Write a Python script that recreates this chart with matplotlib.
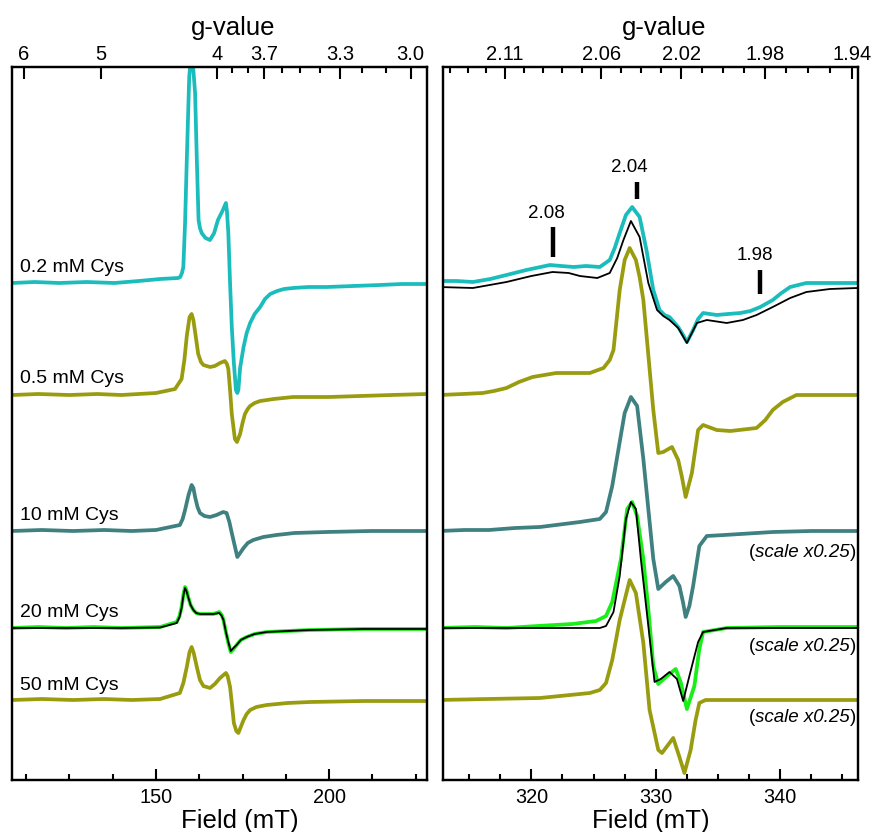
import numpy as np
import matplotlib
matplotlib.use("Agg")
import matplotlib.pyplot as plt

plt.rcParams['font.family'] = ['Liberation Sans', 'DejaVu Sans']

# ---------------- data ----------------
labels = ["0.2 mM Cys", "0.5 mM Cys", "10 mM Cys", "20 mM Cys", "50 mM Cys"]

# Left panel (low-field region), field in mT, intensity in arbitrary units
L_cyan_B = [108.4, 115, 122, 130, 138, 145, 151.2, 156.4, 157.0, 157.5, 157.9, 158.4, 158.9, 159.6,
            160.0, 160.6, 161.3, 161.8, 162.3, 162.7, 163.2, 164.3, 165.6, 166.8, 167.9, 169.2,
            170.2, 170.5, 170.9, 171.4, 171.9, 172.5, 173.1, 173.5, 173.8, 174.3, 175.3, 176.2,
            177.2, 178.5, 180.1, 181.5, 183.0, 185.0, 187.0, 189.6, 194, 199.4, 207, 214.7, 221, 228.3]
L_cyan_I = [0, 1, 0, 1, 0, 2, 4, 5, 6, 10, 16, 60, 123, 206,
            222, 222, 190, 123, 63, 55, 50, 45, 43, 50, 63, 72,
            80, 72, 50, 0, -44, -80, -107, -110, -107, -85, -64, -50,
            -40, -31, -24, -16, -11, -8, -6, -5, -4, -4, -3, -2, -1, -1]

L_olive_B = [108.4, 116, 125, 133, 140, 150, 155.5, 157.4, 158.2, 158.9, 159.7, 160.3, 160.8, 161.3,
             162.2, 163.0, 163.7, 165.6, 167.0, 168.5, 169.9, 170.5, 170.9, 171.4, 171.9, 172.8,
             173.4, 174.3, 175.0, 175.7, 176.5, 177.2, 178.5, 180.1, 184.0, 189.6, 200, 209, 218, 228.3]
L_olive_I = [0, 1, 0, 1, 0, 2, 6, 16, 35, 59, 78, 81, 75, 63,
             41, 33, 30, 28, 29, 32, 34, 31, 26, 5, -19, -44,
             -47, -39, -28, -19, -14, -11, -8, -6, -4, -2, -2, -1, 0, 1]

L_teal_B = [108.4, 117, 126, 135, 143, 150, 156.9, 157.7, 158.4, 159.4, 160.3, 160.8, 161.3, 162.0,
            162.7, 164.0, 165.6, 167.5, 169.4, 170.4, 171.2, 171.9, 172.7, 173.5, 174.3, 175.3,
            176.5, 178.1, 181.0, 184.8, 190, 199.3, 212, 228.3]
L_teal_I = [0, 1, 0, 1, 0, 1, 6, 12, 21, 36, 46, 43, 34, 24,
            18, 15, 14, 16, 19, 18, 9, -2, -14, -26, -22, -17,
            -12, -9, -6, -4, -2, -1, 0, 0]

L_green_B = [108.4, 116, 124, 132, 140, 151.2, 156.0, 156.8, 157.4, 158.0, 158.4, 158.8, 159.3, 160.0,
             160.8, 161.6, 162.7, 164.5, 166.6, 168.3, 169.0, 169.5, 170.2, 170.9, 171.6, 172.4,
             173.3, 174.5, 176.2, 178.5, 182.0, 188, 194.5, 210, 228.2]
L_green_I = [0, 1, 0, 1, 0, 1, 6, 12, 21, 35, 41, 38, 31, 23,
             18, 15, 14, 14, 14, 16, 13, 8, -4, -15, -24, -21,
             -17, -12, -9, -6, -4, -3, -2, -1, -1]

L_fit_B = [108.4, 140, 151.2, 156.0, 156.8, 157.4, 158.0, 158.4, 158.8, 159.3, 160.0, 160.8, 161.6,
           162.7, 164.5, 166.6, 168.3, 169.0, 169.5, 170.2, 170.9, 171.6, 172.4, 173.3, 174.5,
           176.2, 178.5, 182.0, 188, 194.5, 210, 228.2]
L_fit_I = [0, 0, 0.5, 5, 11, 20, 34, 40, 37, 31, 23, 18, 15,
           14, 14, 14, 15, 12, 8, -4, -14, -23, -20, -17, -12,
           -9, -6, -4, -3, -2, -1, -1]

L_olive50_B = [108.4, 117, 126, 135, 143, 151.2, 156.9, 157.9, 158.9, 159.7, 160.3, 160.9, 161.8,
               162.7, 163.7, 165.6, 167.0, 168.5, 170.2, 170.7, 171.4, 172.0, 172.5, 173.2, 173.8,
               174.5, 175.3, 176.2, 177.2, 179.0, 182.0, 188, 194.5, 210, 228.2]
L_olive50_I = [0, 1, 0, 1, 0, 1, 7, 17, 33, 48, 53, 47, 33,
               20, 14, 12, 16, 22, 27, 24, 13, -6, -23, -31, -33,
               -27, -20, -14, -10, -7, -5, -3, -2, -1, -1]

# Right panel (g ~ 2 region)
R_cyan_B = [312.6, 314.0, 315.3, 316.7, 318.0, 319.6, 321.5, 322.4, 323.4, 324.4, 325.5, 326.3, 326.7,
            327.1, 327.6, 328.1, 328.7, 329.25, 329.8, 330.3, 330.7, 331.1, 331.8, 332.1, 332.5,
            333.0, 333.4, 333.8, 334.9, 335.8, 336.8, 337.6, 338.4, 339.4, 340.1, 340.8, 342.1,
            344, 346.2]
R_cyan_I = [2, 2, 1, 4, 8, 13, 18, 17, 16, 17, 16, 23, 35,
            50, 68, 76, 66, 33, -7, -27, -32, -34, -44, -50, -59,
            -47, -36, -30, -32, -31, -30, -28, -24, -17, -10, -4, 0,
            0, 0]

R_cfit_B = [312.6, 315.3, 318.0, 320.0, 321.7, 323.0, 323.9, 325.3, 326.3, 326.9, 327.4, 328.0, 328.7,
            329.4, 330.1, 330.6, 331.1, 331.8, 332.5, 332.9, 333.3, 334.1, 335.7, 337.0, 338.1,
            339.4, 340.8, 342.1, 344, 346.2]
R_cfit_I = [-4, -5, 1, 7, 11, 10, 7, 5, 10, 25, 43, 62, 46,
            0, -27, -33, -37, -45, -60, -50, -40, -37, -40, -37, -32,
            -24, -15, -9, -6, -5]

R_olive_B = [312.6, 314.5, 316.1, 317.0, 318.0, 319.0, 320.1, 322.0, 324.7, 325.8, 326.3, 326.6, 327.1,
             327.5, 327.9, 328.4, 328.7, 329.0, 329.4, 329.8, 330.2, 330.6, 331.3, 331.8, 332.1,
             332.4, 332.9, 333.4, 333.8, 334.9, 336.0, 338.1, 338.8, 339.4, 340.2, 341.3, 343.5, 346.2]
R_olive_I = [0, 1, 2, 4, 7, 13, 18, 22, 22, 27, 35, 45, 105,
             135, 147, 135, 118, 95, 40, -15, -58, -57, -52, -65, -82,
             -102, -78, -35, -30, -35, -36, -33, -25, -15, -7, 0, 0, 0]

R_teal_B = [312.6, 314.6, 316.6, 318.7, 320.7, 323.9, 325.5, 326.0, 326.5, 327.1, 327.5, 328.0, 328.5,
            329.0, 329.4, 329.8, 330.2, 330.8, 331.4, 331.9, 332.2, 332.4, 332.7, 333.0, 333.5,
            334.1, 335.5, 336.8, 339.4, 342.5, 346.2]
R_teal_I = [0, 1, 1, 3, 4, 9, 12, 19, 45, 89, 118, 134, 125,
            72, 22, -28, -58, -51, -45, -55, -72, -86, -75, -55, -15,
            -5, -4, -3, -1, 0, 0]

R_green_B = [312.6, 315.5, 318.0, 320.5, 323.3, 325.2, 326.0, 326.5, 327.2, 327.7, 328.1, 328.5, 329.0,
             329.4, 329.8, 330.2, 330.9, 331.6, 332.0, 332.5, 333.1, 333.5, 333.8, 335.7, 340, 346.2]
R_green_I = [0, 1, 0, 2, 4, 7, 12, 26, 69, 119, 126, 112, 69,
             19, -38, -56, -48, -41, -54, -81, -58, -21, -4, 0, 1, 1]

R_gfit_B = [312.6, 325.5, 326.0, 326.6, 327.1, 327.6, 328.0, 328.4, 328.8, 329.4, 329.9, 330.4, 331.1,
            331.7, 332.2, 332.7, 333.4, 333.8, 335.7, 346.2]
R_gfit_I = [0, 0, 2, 16, 52, 109, 126, 119, 69, 2, -54, -51, -44,
            -51, -73, -48, -14, -4, 0, 0]

R_olive50_B = [312.6, 316.5, 320.7, 324.7, 325.5, 326.0, 326.5, 327.1, 327.7, 327.9, 328.4, 329.0, 329.5,
               330.2, 330.5, 331.4, 331.9, 332.3, 332.8, 333.2, 333.5, 334.0, 340, 346.2]
R_olive50_I = [0, 1, 2, 7, 10, 17, 40, 80, 110, 120, 107, 57, -10,
               -50, -53, -38, -57, -73, -50, -20, -3, 0, 0, 0]

# g-value markers on the 0.2 mM spectrum
marker_text = ["2.08", "2.04", "1.98"]
marker_B = [321.7, 328.5, 338.4]

# top-axis g ticks
g_major_L = [6, 5, 4, 3.7, 3.3, 3.0]
g_major_L_txt = ["6", "5", "4", "3.7", "3.3", "3.0"]
g_minor_L = [3.9, 3.8, 3.6, 3.5, 3.4, 3.2, 3.1]
g_major_R = [2.11, 2.06, 2.02, 1.98, 1.94]
g_minor_R = [2.14, 2.13, 2.12, 2.10, 2.09, 2.08, 2.07, 2.05, 2.04, 2.03, 2.01, 2.00, 1.99,
             1.97, 1.96, 1.95]

freq_GHz = 9.388
K = 71.4477 * freq_GHz  # B(mT) = K / g

# ---------------- style / layout ----------------
colors = ["#1bbcbc", "#9a9c10", "#3f8080", "#19ee19", "#9a9c10"]
offsets = [497, 385, 249, 152, 80]
LW = 2.7

fig = plt.figure(figsize=(8.74, 8.32), dpi=100)
axL = fig.add_axes([12/874, 52/832, 415/874, 713/832])
axR = fig.add_axes([443/874, 52/832, 415/874, 713/832])

for ax in (axL, axR):
    ax.set_ylim(0, 713)
    ax.set_yticks([])
    for s in ax.spines.values():
        s.set_linewidth(1.6)

axL.set_xlim(108.4, 228.3)
axR.set_xlim(312.9, 346.25)

left_sets = [(L_cyan_B, L_cyan_I), (L_olive_B, L_olive_I), (L_teal_B, L_teal_I),
             (L_green_B, L_green_I), (L_olive50_B, L_olive50_I)]
right_sets = [(R_cyan_B, R_cyan_I), (R_olive_B, R_olive_I), (R_teal_B, R_teal_I),
              (R_green_B, R_green_I), (R_olive50_B, R_olive50_I)]

for (B, I), c, off in zip(left_sets, colors, offsets):
    axL.plot(B, np.asarray(I) + off, color=c, lw=LW, solid_joinstyle='round')
axL.plot(L_fit_B, np.asarray(L_fit_I) + offsets[3], color='black', lw=1.3)

for k, ((B, I), c, off) in enumerate(zip(right_sets, colors, offsets)):
    axR.plot(B, np.asarray(I) + off, color=c, lw=LW, solid_joinstyle='round')
    if k == 0:
        axR.plot(R_cfit_B, np.asarray(R_cfit_I) + off, color='black', lw=1.3)
    if k == 3:
        axR.plot(R_gfit_B, np.asarray(R_gfit_I) + off, color='black', lw=1.3)

# sample labels
label_y = [508, 397, 260, 163, 90]
for t, y in zip(labels, label_y):
    axL.text(110.6, y, t, fontsize=14, va='baseline', ha='left')

# g markers
mark_bars = [(553, 523), (598, 581), (510, 486)]
mark_txt = [(321.2, 567), (327.9, 613), (338.0, 524)]
for (b, (y1, y2), txt, (tx, ty)) in zip(marker_B, mark_bars, marker_text, mark_txt):
    axR.plot([b, b], [y1, y2], color='black', lw=3.2, solid_capstyle='butt')
    axR.text(tx, ty, txt, fontsize=13.5, ha='center', va='center')

# bottom axes ticks
axL.set_xticks([150, 200])
axL.set_xticks([112.5, 125, 137.5, 162.5, 175, 187.5, 212.5, 225], minor=True)
axR.set_xticks([320, 330, 340])
axR.set_xticks([315, 317.5, 322.5, 325, 327.5, 332.5, 335, 337.5, 342.5, 345], minor=True)
for ax in (axL, axR):
    ax.tick_params(axis='x', which='major', direction='in', length=8, width=1.5,
                   labelsize=14.3, pad=6, top=False)
    ax.tick_params(axis='x', which='minor', direction='in', length=4, width=1.5, top=False)

axL.set_xlabel("Field (mT)", fontsize=18.5, labelpad=1, x=0.549)
axR.set_xlabel("Field (mT)", fontsize=18.5, labelpad=1)

# top g-value axes
for ax, gmaj, gtxt, gmin in [(axL, g_major_L, g_major_L_txt, g_minor_L),
                             (axR, g_major_R, [f"{g:.2f}" for g in g_major_R], g_minor_R)]:
    top = ax.twiny()
    top.set_xlim(ax.get_xlim())
    top.set_xticks([K / g for g in gmaj])
    top.set_xticklabels(gtxt)
    top.set_xticks([K / g for g in gmin], minor=True)
    top.tick_params(axis='x', which='major', direction='in', length=8.5, width=1.5,
                    labelsize=14.5, pad=2.5)
    top.tick_params(axis='x', which='minor', direction='in', length=4, width=1.5)
    top.set_yticks([])
    top.set_xlabel("g-value", fontsize=18.5, labelpad=6.5, x=0.533)
    for s in top.spines.values():
        s.set_linewidth(1.6)

# "(scale x0.25)" labels: upright parentheses, italic inner text
renderer = fig.canvas.get_renderer()
fs_scale = 13.5
inv = axR.transData.inverted()
for yb in [223, 129, 58]:
    t3 = axR.text(346.1, yb, ")", fontsize=fs_scale, ha='right', va='baseline')
    x0 = inv.transform((t3.get_window_extent(renderer).x0, 0))[0]
    t2 = axR.text(x0, yb, "scale x0.25", fontsize=fs_scale, style='italic', ha='right', va='baseline')
    x1 = inv.transform((t2.get_window_extent(renderer).x0, 0))[0]
    axR.text(x1, yb, "(", fontsize=fs_scale, ha='right', va='baseline')

fig.savefig("out.png", dpi=100)
